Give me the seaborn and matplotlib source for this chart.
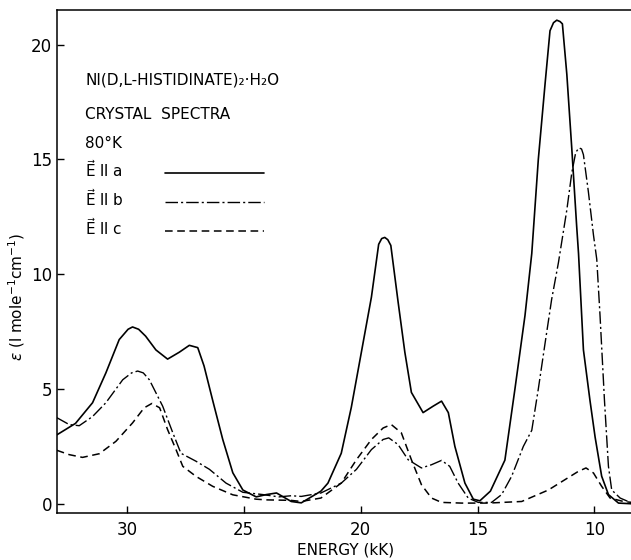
import matplotlib
matplotlib.use("Agg")
import matplotlib.pyplot as plt
import seaborn as sns

# Ni(D,L-histidinate)2.H2O crystal spectra at 80 K
# energy in kK, epsilon in l mole^-1 cm^-1

# E || a (solid)
energy_a = [33.0, 32.2, 31.47, 30.9, 30.33, 29.95, 29.76, 29.5, 29.2, 28.76,
            28.26, 27.76, 27.33, 26.97, 26.7, 26.33, 25.9, 25.47, 25.04, 24.47,
            24.04, 23.6, 22.97, 22.54, 21.7, 21.4, 20.83, 20.4, 19.97, 19.54,
            19.23, 19.1, 18.97, 18.84, 18.71, 18.4, 18.11, 17.83, 17.33, 16.9,
            16.54, 16.25, 15.97, 15.54, 15.18, 14.9, 14.45, 13.83, 13.4, 12.97,
            12.68, 12.4, 12.11, 11.9, 11.75, 11.61, 11.47, 11.37, 11.18, 10.97,
            10.76, 10.68, 10.47, 10.19, 9.97, 9.69, 9.4, 8.97, 8.4]
eps_a = [3.0, 3.5, 4.4, 5.7, 7.15, 7.6, 7.7, 7.6, 7.3, 6.7,
         6.3, 6.6, 6.9, 6.8, 6.0, 4.5, 2.8, 1.35, 0.6, 0.3,
         0.4, 0.47, 0.1, 0.04, 0.55, 0.9, 2.2, 4.2, 6.6, 9.0,
         11.3, 11.55, 11.6, 11.5, 11.25, 8.8, 6.6, 4.85, 3.97, 4.25,
         4.47, 3.97, 2.5, 0.9, 0.2, 0.13, 0.55, 1.9, 5.0, 8.2,
         10.9, 15.0, 18.3, 20.6, 20.95, 21.06, 21.0, 20.9, 18.7, 15.5,
         12.1, 10.9, 6.7, 4.5, 2.9, 1.2, 0.4, 0.03, 0.0]

# E || b (dash-dot)
energy_b = [33.0, 32.47, 32.04, 31.47, 30.9, 30.18, 29.8, 29.54, 29.3, 29.04,
            28.47, 28.04, 27.69, 27.04, 26.47, 25.76, 25.04, 24.18, 23.5, 22.97,
            22.54, 21.7, 20.83, 20.18, 19.54, 19.04, 18.8, 18.4, 17.97, 17.4,
            16.97, 16.54, 16.19, 15.83, 15.4, 14.97, 14.4, 13.97, 13.54, 13.04,
            12.68, 12.4, 12.11, 11.83, 11.54, 11.18, 10.97, 10.8, 10.66, 10.55,
            10.47, 10.26, 10.04, 9.9, 9.76, 9.57, 9.4, 9.26, 8.9, 8.4]
eps_b = [3.75, 3.45, 3.4, 3.8, 4.4, 5.4, 5.7, 5.78, 5.7, 5.4,
         4.25, 3.1, 2.2, 1.85, 1.5, 0.9, 0.5, 0.4, 0.3, 0.35,
         0.32, 0.47, 0.9, 1.5, 2.36, 2.8, 2.87, 2.58, 1.92, 1.56,
         1.7, 1.89, 1.63, 0.9, 0.25, 0.06, 0.06, 0.4, 1.2, 2.5,
         3.2, 5.0, 7.0, 8.9, 10.5, 12.8, 14.4, 15.3, 15.5, 15.45,
         15.2, 13.6, 11.7, 10.65, 8.2, 4.5, 1.63, 0.6, 0.25, 0.03]

# E || c (dashed)
energy_c = [33.0, 32.47, 31.9, 31.18, 30.47, 29.76, 29.26, 28.93, 28.6, 28.26,
            27.9, 27.61, 27.04, 26.33, 25.47, 24.47, 24.04, 23.0, 22.54, 21.7,
            20.83, 20.18, 19.54, 19.04, 18.69, 18.26, 17.83, 17.4, 16.97, 16.54,
            15.68, 14.54, 13.11, 12.54, 11.97, 11.26, 10.69, 10.36, 10.04, 9.69,
            9.33, 8.76, 8.4]
eps_c = [2.33, 2.14, 2.02, 2.18, 2.72, 3.52, 4.18, 4.37, 4.18, 3.23,
         2.36, 1.63, 1.19, 0.76, 0.39, 0.2, 0.17, 0.15, 0.1, 0.25,
         0.9, 1.92, 2.8, 3.3, 3.45, 3.09, 1.92, 0.83, 0.25, 0.06,
         0.03, 0.03, 0.1, 0.35, 0.6, 1.05, 1.41, 1.56, 1.34, 0.76,
         0.25, 0.1, 0.06]

x_ticks = [30, 25, 20, 15, 10]
y_ticks = [0, 5, 10, 15, 20]
legend_labels = ["E ll a", "E ll b", "E ll c"]

sns.set_style("ticks", {"xtick.direction": "in", "ytick.direction": "in"})
plt.rcParams["font.family"] = ["DejaVu Sans"]
plt.rcParams.update({"text.color": "black", "axes.labelcolor": "black",
                     "xtick.color": "black", "ytick.color": "black"})

fig = plt.figure(figsize=(6.31, 5.60), dpi=100)
ax = fig.add_axes([0.090, 0.084, 0.915, 0.898])

solid = "-"
dashdot = (0, (9, 2.2, 1.5, 2.2))
dashed = (0, (5, 3))

sns.lineplot(x=energy_a, y=eps_a, ax=ax, color="black", lw=1.2,
             linestyle=solid, estimator=None, sort=False)
sns.lineplot(x=energy_b, y=eps_b, ax=ax, color="black", lw=1.0,
             linestyle=dashdot, estimator=None, sort=False)
sns.lineplot(x=energy_c, y=eps_c, ax=ax, color="black", lw=1.1,
             linestyle=dashed, estimator=None, sort=False)

ax.set_xlim(33.0, 8.3)
ax.set_ylim(-0.4, 21.5)
ax.set_xticks(x_ticks)
ax.set_yticks(y_ticks)
ax.tick_params(labelsize=12, length=5, width=1, color="black")
ax.tick_params(axis="x", pad=6)
ax.spines["right"].set_visible(False)
for s in ["left", "bottom", "top"]:
    ax.spines[s].set_linewidth(1.1)
    ax.spines[s].set_color("black")

ax.set_xlabel("ENERGY (kK)", fontsize=11, labelpad=2)
ax.set_ylabel(r"$\epsilon$ (l mole$^{-1}$cm$^{-1}$)", fontsize=11)
ax.yaxis.set_label_coords(-0.052, 0.43)

# annotation block in the upper left
tx = 0.049
ax.text(tx, 0.861, "NI(D,L-HISTIDINATE)₂·H₂O", transform=ax.transAxes,
        fontsize=11, va="center")
ax.text(tx, 0.793, "CRYSTAL  SPECTRA", transform=ax.transAxes,
        fontsize=11, va="center")
ax.text(tx, 0.734, "80°K", transform=ax.transAxes, fontsize=11, va="center")

styles = [(solid, 1.2), (dashdot, 1.0), (dashed, 1.1)]
rows = [0.683, 0.625, 0.567]
for (ls, lw), lab, yy in zip(styles, legend_labels, rows):
    ax.text(tx, yy, r"$\vec{\mathrm{E}}$" + " ll " + lab[-1],
            transform=ax.transAxes, fontsize=11, va="center")
    ax.plot([0.188, 0.359], [yy - 0.006, yy - 0.006], transform=ax.transAxes,
            color="black", lw=lw, linestyle=ls)

fig.savefig("out.png", dpi=100)
